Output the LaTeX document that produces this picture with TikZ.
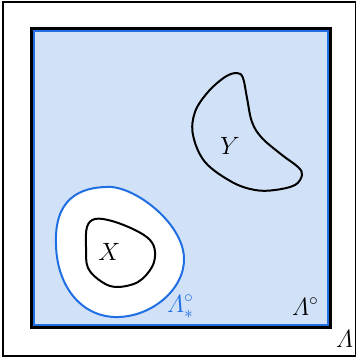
\RequirePackage{fix-cm}
\documentclass[tikz,border=0pt]{standalone}
\usepackage{amsmath}
\definecolor{fillblue}{HTML}{D1E1F8}
\definecolor{lineblue}{HTML}{1F6FE2}
\begin{document}
\begin{tikzpicture}[x=1pt,y=-1pt,
  lbl/.style={font=\fontsize{25}{30}\selectfont, inner sep=0pt, anchor=base west},
  curve/.style={line width=2pt}]
\useasboundingbox (0,0) rectangle (356,360);
\draw[line width=2pt] (3,2) rectangle (356,356);
\draw[line width=3pt, fill=fillblue] (32,28) rectangle (331,327);
\draw[lineblue, line width=2pt] (34.5,30.5) rectangle (328.5,324.5);
% Lambda_*
\draw[curve, lineblue, fill=white] (112,187) .. controls (140,190) and (183,225) .. (184,258)
  .. controls (185,290) and (150,318) .. (115,317)
  .. controls (80,316) and (57,285) .. (56,245)
  .. controls (54,200) and (78,186) .. cycle;
% X
\draw[curve] plot[smooth cycle, tension=0.6] coordinates
 {(95,219) (112,221) (135,230) (150,240) (155,252) (152,267) (138,282) (117,287) (102,282) (88,268) (86,247) (87,227)};
% Y
\draw[curve] plot[smooth cycle, tension=0.6] coordinates
 {(237,73) (243,78) (247,98) (252,122) (262,138) (282,155) (298,167) (302,175) (295,185) (275,190) (255,190) (232,182) (205,162) (193,135) (195,112) (208,92) (225,77)};
\node[lbl] (Y) at (220,154) {$Y$};
\node[lbl] (X) at (98,260) {$X$};
\node[lbl, text=lineblue] (Ls) at (167,312) {$\varLambda^{\circ}_{*}$};
\node[lbl] (Lc) at (292,315) {$\varLambda^{\circ}$};
\node[lbl] (L) at (336,347) {$\varLambda$};
\end{tikzpicture}
\end{document}
